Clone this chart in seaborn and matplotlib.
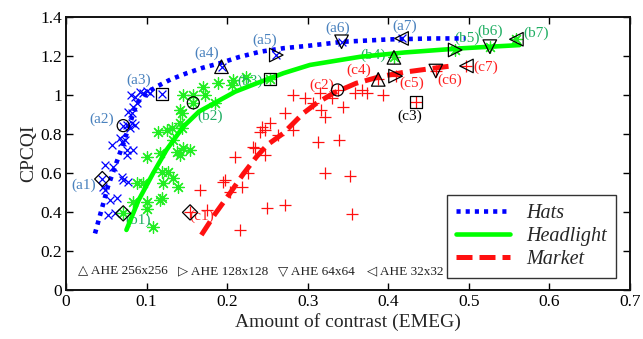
import matplotlib
matplotlib.use("Agg")
import matplotlib.pyplot as plt
import seaborn as sns
import pandas as pd

# ---------------- data ----------------
hats_x = [0.0567, 0.067, 0.069, 0.0753, 0.0835, 0.0753, 0.0484, 0.0587, 0.069, 0.0711, 0.0773,
          0.0463, 0.0484, 0.0546, 0.0629, 0.0525, 0.0608, 0.0802, 0.0856, 0.0918, 0.0959, 0.1009,
          0.1042, 0.0773, 0.0835, 0.0877, 0.0815, 0.0753, 0.0815, 0.0794, 0.0856, 0.0732]
hats_y = [0.744, 0.778, 0.761, 0.718, 0.718, 0.692, 0.641, 0.632, 0.581, 0.564, 0.556,
          0.530, 0.513, 0.462, 0.470, 0.385, 0.393, 1.0, 0.991, 1.017, 1.009, 1.022,
          1.009, 0.915, 0.94, 0.957, 0.906, 0.846, 0.855, 0.829, 0.846, 0.769]

head_x = [0.1455, 0.158, 0.170, 0.1725, 0.189, 0.2056, 0.2076, 0.224, 0.185, 0.1455, 0.154,
          0.1414, 0.1435, 0.131, 0.1414, 0.1435, 0.1145, 0.1331, 0.1373, 0.1414, 0.1166,
          0.1001, 0.1187, 0.1269, 0.1331, 0.1207, 0.1393, 0.0959, 0.0877, 0.1187, 0.1001,
          0.0835, 0.1001, 0.1083, 0.125, 0.1166]
head_y = [1.0, 1.0, 1.043, 1.0, 1.06, 1.051, 1.077, 1.094, 0.957, 0.726, 0.72,
          0.923, 0.906, 0.829, 0.855, 0.829, 0.812, 0.769, 0.709, 0.692, 0.701,
          0.684, 0.607, 0.607, 0.573, 0.547, 0.530, 0.547, 0.547, 0.470, 0.453,
          0.453, 0.415, 0.325, 0.82, 0.462]

mkt_x = [0.282, 0.2965, 0.307, 0.315, 0.317, 0.321, 0.2717, 0.2428, 0.253, 0.247, 0.2407,
         0.282, 0.2634, 0.2324, 0.2345, 0.247, 0.2097, 0.313, 0.3213, 0.197, 0.226, 0.218,
         0.2035, 0.166, 0.249, 0.2717, 0.216, 0.1745, 0.195, 0.3296, 0.344, 0.3586, 0.367,
         0.373, 0.393, 0.339, 0.353, 0.355]
mkt_y = [1.0, 0.983, 0.957, 1.009, 0.923, 0.889, 0.906, 0.838, 0.855, 0.82, 0.812,
         0.82, 0.795, 0.735, 0.726, 0.692, 0.684, 0.761, 0.598, 0.564, 0.598, 0.53,
         0.504, 0.513, 0.419, 0.436, 0.308, 0.41, 0.556, 0.983, 0.94, 1.009, 1.026,
         1.009, 1.0, 0.769, 0.586, 0.388]

# fitted curves
hats_curve_x = [0.036, 0.052, 0.071, 0.0877, 0.1, 0.1125, 0.13, 0.15, 0.17, 0.191, 0.215,
                0.241, 0.27, 0.3, 0.344, 0.40, 0.456, 0.495]
hats_curve_y = [0.29, 0.53, 0.75, 0.957, 1.01, 1.043, 1.08, 1.112, 1.14, 1.163, 1.195,
                1.222, 1.24, 1.252, 1.273, 1.285, 1.29, 1.29]
head_curve_x = [0.075, 0.09, 0.108, 0.125, 0.1455, 0.165, 0.191, 0.21, 0.2366, 0.27,
                0.3027, 0.365, 0.42, 0.489, 0.563]
head_curve_y = [0.308, 0.46, 0.598, 0.72, 0.837, 0.915, 0.974, 1.017, 1.06, 1.112,
                1.154, 1.196, 1.218, 1.239, 1.256]
mkt_curve_x = [0.168, 0.185, 0.2035, 0.22, 0.2366, 0.25, 0.2696, 0.2944, 0.31, 0.3317,
               0.36, 0.3896, 0.42, 0.4557, 0.4785]
mkt_curve_y = [0.282, 0.39, 0.496, 0.595, 0.684, 0.745, 0.803, 0.906, 0.955, 1.009,
               1.06, 1.094, 1.117, 1.137, 1.149]

# key (labelled) points
key_markers = ['D', 'o', 's', '^', '>', 'v', '<']
hats_key_x = [0.045, 0.071, 0.1195, 0.193, 0.261, 0.342, 0.4165]
hats_key_y = [0.569, 0.843, 1.003, 1.145, 1.205, 1.273, 1.29]
head_key_x = [0.071, 0.158, 0.253, 0.407, 0.483, 0.526, 0.559]
head_key_y = [0.393, 0.96, 1.082, 1.193, 1.231, 1.248, 1.286]
mkt_key_x = [0.154, 0.337, 0.434, 0.3875, 0.409, 0.459, 0.497]
mkt_key_y = [0.398, 1.026, 0.963, 1.08, 1.097, 1.123, 1.149]

hats_labels = ['(a1)', '(a2)', '(a3)', '(a4)', '(a5)', '(a6)', '(a7)']
hats_lab_x = [0.0215, 0.0443, 0.0897, 0.1745, 0.247, 0.3366, 0.4206]
hats_lab_y = [0.538, 0.875, 1.077, 1.214, 1.282, 1.342, 1.355]
head_labels = ['(b1)', '(b2)', '(b3)', '(b4)', '(b5)', '(b6)', '(b7)']
head_lab_x = [0.0897, 0.1787, 0.228, 0.381, 0.4975, 0.526, 0.584]
head_lab_y = [0.359, 0.889, 1.068, 1.205, 1.29, 1.325, 1.316]
mkt_labels = ['(c1)', '(c2)', '(c3)', '(c4)', '(c5)', '(c6)', '(c7)']
mkt_lab_x = [0.168, 0.317, 0.4268, 0.363, 0.429, 0.4764, 0.521]
mkt_lab_y = [0.376, 1.051, 0.889, 1.128, 1.06, 1.077, 1.14]

ahe_texts = ['\u25B3 AHE 256x256', '\u25B7 AHE 128x128', '\u25BD AHE 64x64', '\u25C1 AHE 32x32']
ahe_x = [0.0149, 0.139, 0.263, 0.3735]
ahe_y = 0.094

series_names = ['Hats', 'Headlight', 'Market']
x_ticks = [0, 0.1, 0.2, 0.3, 0.4, 0.5, 0.6, 0.7]
x_tick_labels = ['0', '0.1', '0.2', '0.3', '0.4', '0.5', '0.6', '0.7']
y_ticks = [0, 0.2, 0.4, 0.6, 0.8, 1.0, 1.2, 1.4]
y_tick_labels = ['0', '0.2', '0.4', '0.6', '0.8', '1', '1.2', '1.4']

# ---------------- style ----------------
sns.set_style("ticks")
plt.rcParams['font.family'] = ['Liberation Serif', 'DejaVu Sans']

BLUE = '#0000ff'
GREEN = '#22ee22'
GREEN_LINE = '#00ff00'
RED = '#ff1010'
LAB_BLUE = '#4a82be'
LAB_GREEN = '#1fae62'
LAB_RED = '#ff2020'

fig = plt.figure(figsize=(6.43, 3.39), dpi=100)
ax = fig.add_axes([66 / 643, 1 - 290 / 339, 564 / 643, 273 / 339])

asterisk = (8, 2, 0)

# scatter clouds
sns.scatterplot(x=hats_x + hats_key_x, y=hats_y + hats_key_y, marker='x', color=BLUE,
                s=32, linewidth=0.9, ax=ax, zorder=2)
sns.scatterplot(x=head_x + head_key_x, y=head_y + head_key_y, marker=asterisk, color=GREEN,
                edgecolor=GREEN, s=70, linewidth=0.9, ax=ax, zorder=2)
sns.scatterplot(x=mkt_x + mkt_key_x, y=mkt_y + mkt_key_y, marker='+', color=RED,
                s=80, linewidth=0.9, ax=ax, zorder=2)

# labels
for labs, lx, ly, col in [(hats_labels, hats_lab_x, hats_lab_y, LAB_BLUE),
                          (head_labels, head_lab_x, head_lab_y, LAB_GREEN),
                          (mkt_labels, mkt_lab_x, mkt_lab_y, LAB_RED)]:
    for t, xx, yy in zip(labs, lx, ly):
        c = 'black' if t == '(c3)' else col
        ax.text(xx, yy, t, ha='center', va='center', fontsize=11, color=c, zorder=3)

# curves
curve_df = pd.concat([
    pd.DataFrame({'x': hats_curve_x, 'y': hats_curve_y, 'series': 'Hats'}),
    pd.DataFrame({'x': head_curve_x, 'y': head_curve_y, 'series': 'Headlight'}),
    pd.DataFrame({'x': mkt_curve_x, 'y': mkt_curve_y, 'series': 'Market'}),
])
styles = {'Hats': dict(color=BLUE, ls=(0, (0.9, 1.1)), lw=3.3),
          'Headlight': dict(color=GREEN_LINE, ls='-', lw=3.3),
          'Market': dict(color=RED, ls=(0, (3.2, 1.4)), lw=3.6)}
for name in series_names:
    sub = curve_df[curve_df['series'] == name]
    st = styles[name]
    ln = sns.lineplot(data=sub, x='x', y='y', sort=False, estimator=None, ax=ax,
                      color=st['color'], linestyle=st['ls'], linewidth=st['lw'],
                      label=name, zorder=4)
for line in ax.get_lines():
    line.set_solid_joinstyle('round')
    line.set_dash_joinstyle('round')

# key hollow markers
sizes = {'D': 60, 'o': 75, 's': 75, '^': 95, '>': 95, 'v': 95, '<': 95}
for kx, ky in [(hats_key_x, hats_key_y), (head_key_x, head_key_y), (mkt_key_x, mkt_key_y)]:
    for xx, yy, m in zip(kx, ky, key_markers):
        ax.scatter([xx], [yy], marker=m, s=sizes[m], facecolors='none',
                   edgecolors='black', linewidths=0.9, zorder=5)

# AHE legend row
for t, xx in zip(ahe_texts, ahe_x):
    ax.text(xx, ahe_y, t, ha='left', va='center', fontsize=9.5, color='#222222',
            family=['Liberation Serif', 'DejaVu Sans'], zorder=3)

# axes
ax.set_xlim(0, 0.7)
ax.set_ylim(0, 1.4)
ax.set_xticks(x_ticks)
ax.set_xticklabels(x_tick_labels)
ax.set_yticks(y_ticks)
ax.set_yticklabels(y_tick_labels)
ax.tick_params(direction='in', top=True, right=True, length=5, width=1.0,
               labelsize=12.5, colors='black', pad=3)
for sp in ax.spines.values():
    sp.set_visible(True)
    sp.set_linewidth(1.4)
    sp.set_color('#111111')
ax.set_xlabel('Amount of contrast (EMEG)', fontsize=14, labelpad=2)
ax.set_ylabel('CPCQI', fontsize=14, labelpad=2)

leg = ax.legend(loc='lower right', bbox_to_anchor=(0.975, 0.044),
                prop={'style': 'italic', 'size': 14.5, 'family': 'Liberation Serif'},
                frameon=True, fancybox=False, edgecolor='black', handlelength=2.7,
                borderpad=0.45, labelspacing=0.2, handletextpad=0.8, borderaxespad=0)
leg.get_frame().set_linewidth(1.0)
leg.set_zorder(6)

fig.savefig('out.png', dpi=100)
